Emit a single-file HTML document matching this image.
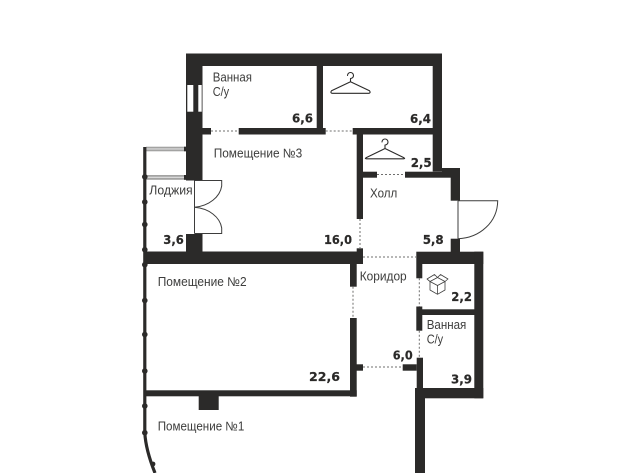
<!DOCTYPE html>
<html><head><meta charset="utf-8"><style>
html,body{margin:0;padding:0;background:#fff;width:640px;height:473px;overflow:hidden}
svg{display:block}
.t{font-family:"Liberation Sans","Noto Sans CJK SC",sans-serif;font-size:12.8px;fill:#3d3d3c}
.n{font-family:"DejaVu Sans","Liberation Sans",sans-serif;font-size:12px;font-weight:bold;fill:#2b2a29;stroke:#2b2a29;stroke-width:.2}
</style></head><body>
<svg width="640" height="473" viewBox="0 0 640 473" xmlns="http://www.w3.org/2000/svg">
<rect width="640" height="473" fill="#fff"/>
<!-- loggia rails -->
<g>
<rect x="146" y="146.700" width="40" height="4.600" fill="#a3a3a2"/><rect x="146" y="148.300" width="40" height="1.300" fill="#d8d8d8"/>
<rect x="146" y="175" width="40" height="4.800" fill="#a3a3a2"/><rect x="146" y="176.700" width="40" height="1.300" fill="#d8d8d8"/>
<rect x="184" y="146.700" width="3" height="4.600" fill="#2b2a29"/><rect x="184" y="175" width="3" height="4.800" fill="#2b2a29"/>
</g>
<!-- walls -->
<g fill="#2b2a29">
<rect x="186" y="53.500" width="256" height="12.500"/>
<rect x="186" y="53.500" width="16.500" height="127"/>
<rect x="186" y="234" width="16.500" height="20"/>
<rect x="432.700" y="53.500" width="9.300" height="118"/>
<rect x="316.700" y="66" width="6.300" height="68"/>
<rect x="202" y="128" width="9" height="6.500"/>
<rect x="238.700" y="128" width="87" height="6.500"/>
<rect x="352.700" y="128" width="89.300" height="6.500"/>
<rect x="356.700" y="128" width="6.300" height="91"/>
<rect x="363" y="171.700" width="14" height="6"/>
<rect x="405" y="171.700" width="55" height="6"/>
<rect x="442" y="168" width="18" height="9"/>
<rect x="450.700" y="168" width="9.300" height="32.700"/>
<rect x="450.700" y="238.700" width="9.300" height="14"/>
<rect x="416.300" y="251.700" width="67" height="12.300"/>
<rect x="474.300" y="251.700" width="9" height="146.600"/>
<rect x="415" y="388" width="68.300" height="10.300"/>
<rect x="416.300" y="264" width="6" height="14.300"/>
<rect x="416.300" y="306.500" width="6" height="24.200"/>
<rect x="422" y="309.300" width="52.500" height="5.700"/>
<rect x="416.700" y="357.700" width="6.300" height="31"/>
<rect x="402.700" y="364.300" width="14" height="6.400"/>
<rect x="356" y="364.300" width="7" height="6.400"/>
<rect x="415" y="388" width="10" height="85"/>
<rect x="145" y="251.500" width="218" height="12.500"/>
<rect x="356.700" y="248.300" width="6.300" height="15.700"/>
<rect x="350" y="264" width="6.700" height="22.700"/>
<rect x="350" y="318" width="6.700" height="78.700"/>
<rect x="145" y="390.300" width="211.700" height="6"/>
<rect x="198.700" y="396" width="20" height="14"/>
</g>
<!-- window -->
<rect x="187.300" y="85" width="6" height="26.700" fill="#fff"/>
<rect x="198.300" y="85" width="3.400" height="26.700" fill="#fff"/>
<!-- loggia outer line -->
<path d="M144.800 147V432.700C145.500 446 149 458 155 473" fill="none" stroke="#2b2a29" stroke-width="3.200"/>
<g fill="#2b2a29">
<circle cx="144.800" cy="176.800" r="2.800"/><circle cx="144.800" cy="202" r="2.800"/><circle cx="144.800" cy="224.500" r="2.800"/><circle cx="144.800" cy="249.700" r="2.800"/><circle cx="144.800" cy="264.700" r="2.800"/><circle cx="144.800" cy="300.500" r="2.800"/><circle cx="144.800" cy="334.500" r="2.800"/><circle cx="144.800" cy="371" r="2.800"/><circle cx="144.800" cy="406" r="2.800"/><circle cx="144.800" cy="432.700" r="2.800"/><circle cx="153" cy="464" r="2.400"/>
</g>
<!-- dotted doors -->
<g stroke="#6f6f6e" stroke-width="1" stroke-dasharray="2 2" fill="none">
<path d="M211 131H238.700"/>
<path d="M325.700 131H352.700"/>
<path d="M377 174.500H405"/>
<path d="M360 219V248"/>
<path d="M363 257H416"/>
<path d="M353 286.700V318"/>
<path d="M419.300 278.300V306.500"/>
<path d="M419.300 330.700V357.700"/>
<path d="M363 367H402.700"/>
</g>
<!-- doors -->
<g fill="none" stroke="#3d3d3c" stroke-width="1">
<path d="M194.500 180.500V233.500"/>
<path d="M194.500 180.500H221.700V186C220 197 209 206 194.500 207.300"/>
<path d="M194.500 233.500H221.700V228C220 217 209 208.500 194.500 207.300"/>
<path d="M458 200.700V238.700"/>
<path d="M458 200.700H497.700C497.500 222 480 238 458 238.700"/>
</g>
<!-- hangers -->
<g fill="none" stroke="#2b2a29" stroke-width="1.100" stroke-linecap="round" stroke-linejoin="round">
<path d="M347.500 75.500A3 3 0 1 1 350.500 78.500V81.800L331.500 90.800Q330 92.700 332 93.300H369Q371 92.700 369.500 90.800L350.500 81.800"/>
<path d="M382 142A3 3 0 1 1 385 145V148.500L366 157.800Q364.500 158.800 366.500 158.800H403.500Q405.500 158.800 404 157.800L385 148.500"/>
</g>
<!-- box -->
<g fill="none" stroke="#3d3d3c" stroke-width=".8" stroke-linejoin="round">
<path d="M430 281.500L437.500 285.500L445 281.500L437.500 277.500Z"/>
<path d="M430 281.500L427 279L434.500 274.500L437.500 277.500L440.500 274.500L448 279L445 281.500"/>
<path d="M427 279L430 281.500M430 281.500V290L437.500 294.300L445 290V281.500"/>
<path d="M437.500 285.500V294.300"/>
</g>
<!-- labels -->
<g class="t">
<text x="212.700" y="81.700" textLength="39.300" lengthAdjust="spacingAndGlyphs">Ванная</text>
<text x="212.700" y="96" textLength="16.500" lengthAdjust="spacingAndGlyphs">С/у</text>
<text x="213.700" y="157.700" textLength="88.500" lengthAdjust="spacingAndGlyphs">Помещение №3</text>
<text x="149.300" y="194.300" textLength="43.400" lengthAdjust="spacingAndGlyphs">Лоджия</text>
<text x="157.700" y="286" textLength="89" lengthAdjust="spacingAndGlyphs">Помещение №2</text>
<text x="370" y="197.700" textLength="27.300" lengthAdjust="spacingAndGlyphs">Холл</text>
<text x="359.700" y="280.300" textLength="47" lengthAdjust="spacingAndGlyphs">Коридор</text>
<text x="426.700" y="329" textLength="39.600" lengthAdjust="spacingAndGlyphs">Ванная</text>
<text x="426.700" y="343.300" textLength="16.500" lengthAdjust="spacingAndGlyphs">С/у</text>
<text x="157.700" y="430.700" textLength="86.600" lengthAdjust="spacingAndGlyphs">Помещение №1</text>
</g>
<g class="n">
<text x="292" y="122.700" textLength="21" lengthAdjust="spacingAndGlyphs">6,6</text>
<text x="410" y="123" textLength="21" lengthAdjust="spacingAndGlyphs">6,4</text>
<text x="410.700" y="167" textLength="21" lengthAdjust="spacingAndGlyphs">2,5</text>
<text x="163.300" y="244" textLength="20.500" lengthAdjust="spacingAndGlyphs">3,6</text>
<text x="324" y="244" textLength="28" lengthAdjust="spacingAndGlyphs">16,0</text>
<text x="422.700" y="244" textLength="21" lengthAdjust="spacingAndGlyphs">5,8</text>
<text x="451.300" y="301" textLength="20.700" lengthAdjust="spacingAndGlyphs">2,2</text>
<text x="392.700" y="359.300" textLength="20" lengthAdjust="spacingAndGlyphs">6,0</text>
<text x="451" y="383.300" textLength="21" lengthAdjust="spacingAndGlyphs">3,9</text>
<text x="309" y="381" textLength="31" lengthAdjust="spacingAndGlyphs">22,6</text>
</g>
</svg>
</body></html>
